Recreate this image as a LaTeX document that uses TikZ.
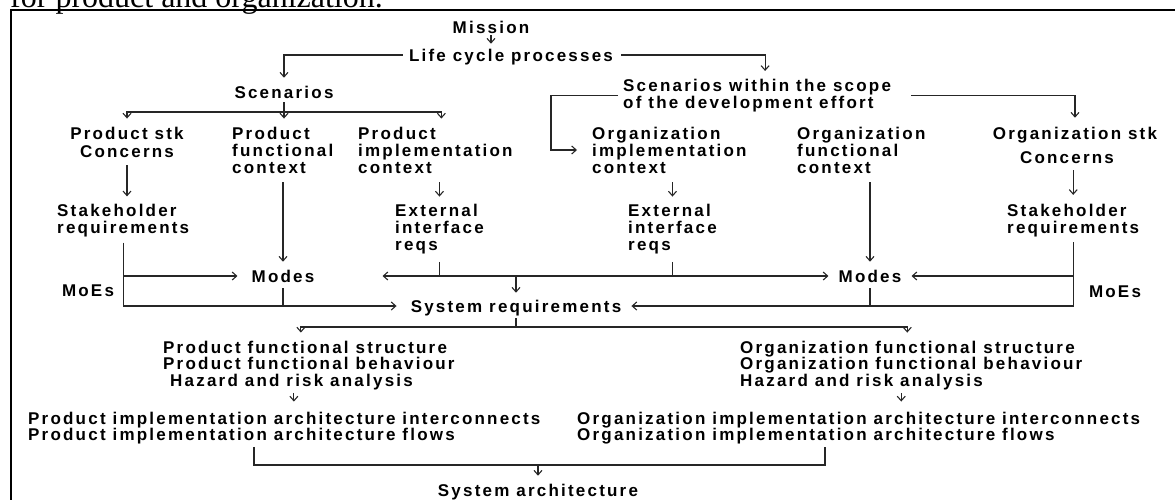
\documentclass[tikz,border=0pt]{standalone}
\usepackage{fontspec}
\newfontfamily\diafont{Liberation Sans}[LetterSpace=13]
\newfontfamily\capfont{Liberation Serif}
\usetikzlibrary{arrows.meta}
\begin{document}
\begin{tikzpicture}[x=1pt,y=-1pt,
  lbl/.style={inner sep=0pt, font=\diafont\bfseries\fontsize{17}{17}\selectfont},
  one/.style={lbl, text height=12.2pt, text depth=0pt},
  multi/.style={lbl, align=left, anchor=west},
  link/.style={draw=black!85, line width=1.1pt},
  arr/.style={link, -{Straight Barb[length=4.5pt,width=8pt,line width=1.1pt]}},
]
\useasboundingbox (0,0) rectangle (1175,499);

% caption line above the frame and the frame itself
\node[anchor=base west, inner sep=0pt, font=\capfont\fontsize{32}{32}\selectfont] (caption) at (10,7) {for product and organization.};
\draw[line width=2pt] (1190,10) -- (11,10) -- (11,510);

% ---- nodes ----
\node[one] (mission) at (491,27) {Mission};
\node[one] (life) at (511,55) {Life cycle processes};
\node[one] (scen) at (284,92) {Scenarios};
\node[multi, font=\diafont\bfseries\fontsize{17}{15}\selectfont] (scenw) at (623,95.5) {Scenarios within the scope\\of the development effort};

\node[lbl, align=center, font=\diafont\bfseries\fontsize{17}{18}\selectfont] (pstk) at (127,142) {Product stk\\Concerns};
\node[multi] (pfc) at (232,150) {Product\\functional\\context};
\node[multi] (pic) at (358,150) {Product\\implementation\\context};
\node[multi] (oic) at (592,150) {Organization\\implementation\\context};
\node[multi] (ofc) at (797,150) {Organization\\functional\\context};
\node[one] (ostk) at (1075,133) {Organization stk};
\node[one] (ocon) at (1067,157) {Concerns};

\node[multi] (psr) at (57,221) {Stakeholder\\requirements};
\node[multi] (pext) at (395,228.7) {External\\interface\\reqs};
\node[multi] (oext) at (628,228.7) {External\\interface\\reqs};
\node[multi] (osr) at (1007,220.5) {Stakeholder\\requirements};

\node[one] (pmodes) at (283,276) {Modes};
\node[one] (omodes) at (870,276) {Modes};
\node[one] (pmoe) at (88,290) {MoEs};
\node[one] (omoe) at (1115,291) {MoEs};
\node[one] (sysreq) at (516,306) {System requirements};

\node[multi, font=\diafont\bfseries\fontsize{17}{16.5}\selectfont] (pfs) at (163,365.2) {Product functional structure\\Product functional behaviour\\\hspace*{7pt}Hazard and risk analysis};
\node[multi, font=\diafont\bfseries\fontsize{17}{16.5}\selectfont] (ofs) at (740,365.2) {Organization functional structure\\Organization functional behaviour\\Hazard and risk analysis};
\node[multi, font=\diafont\bfseries\fontsize{17}{16}\selectfont] (pia) at (28,427.7) {Product implementation architecture interconnects\\Product implementation architecture flows};
\node[multi, font=\diafont\bfseries\fontsize{17}{16}\selectfont] (oia) at (577,427.7) {Organization implementation architecture interconnects\\Organization implementation architecture flows};
\node[one] (sysarch) at (538,490) {System architecture};

% ---- connectors ----
\draw[arr, shorten <=2pt, shorten >=5pt] (mission.south) -- (mission.south |- life.north);
\draw[arr, shorten >=8pt] ([xshift=-6pt]life.west) -| (scen.north);
\draw[arr, shorten >=8pt] ([xshift=8pt]life.east) -| ([xshift=8pt]scenw.north);

\coordinate (sp1) at (284,112);
\draw[link, shorten <=4pt] (scen.south) -- (sp1);
\draw[arr, shorten >=8pt] (sp1) -- (sp1 |- pfc.north);
\draw[arr, shorten >=8pt] (sp1) -| (pstk.north);
\draw[arr, shorten >=8pt] (sp1) -| ([xshift=6pt]pic.north);

\coordinate (sp2) at (551,150);
\draw[arr, shorten >=15pt] ([xshift=-5pt]scenw.west) -| (sp2) -- (oic.west);
\draw[arr, shorten >=9pt] ([xshift=20pt]scenw.east) -| (ostk.north);

\draw[arr, shorten <=8pt, shorten >=8pt] (pstk.south) -- (pstk.south |- psr.north);
\draw[arr, shorten <=7pt, shorten >=9pt] (osr.north |- ocon.south) -- (osr.north);
\draw[arr, shorten <=9pt, shorten >=8pt] (pmodes.north |- pfc.south) -- (pmodes.north);
\draw[arr, shorten <=9pt, shorten >=8pt] (omodes.north |- ofc.south) -- (omodes.north);
\draw[arr, shorten <=9pt, shorten >=7pt] (pext.north |- pic.south) -- (pext.north);
\draw[arr, shorten <=9pt, shorten >=7pt] (oext.north |- oic.south) -- (oext.north);

\draw[arr, shorten <=5pt, shorten >=14pt] (psr.south) |- (sysreq.west);
\draw[arr, shorten >=14pt] (psr.south |- pmodes.west) -- (pmodes.west);
\draw[link, shorten <=6pt] (pmodes.south) -- (pmodes.south |- sysreq.west);
\draw[arr, shorten <=5pt, shorten >=10pt] (osr.south) |- (sysreq.east);
\draw[arr, shorten >=10pt] (osr.south |- omodes.east) -- (omodes.east);
\draw[link, shorten <=6pt] (omodes.south) -- (omodes.south |- sysreq.east);

\draw[link, shorten <=8pt] (pext.south) -- (pext.south |- pmodes.east);
\draw[link, shorten <=8pt] (oext.south) -- (oext.south |- pmodes.east);
\draw[arr] (oext.south |- pmodes.east) -- ([xshift=68pt]pmodes.east);
\draw[arr, shorten >=10pt] (pext.south |- omodes.west) -- (omodes.west);
\draw[arr, shorten >=7pt] (sysreq.north |- pmodes.east) -- (sysreq.north);

\coordinate (sp3) at (515,327);
\draw[link, shorten <=6pt] (sysreq.south) -- (sysreq.south |- sp3);
\draw[arr, shorten >=8pt] (sysreq.south |- sp3) -| ([xshift=-8pt]pfs.north);
\draw[arr, shorten >=8pt] (sysreq.south |- sp3) -| ([xshift=-4pt]ofs.north);

\draw[arr, shorten <=3pt, shorten >=10pt] ([xshift=-15pt]pfs.south) -- ([xshift=-15pt]pfs.south |- pia.north);
\draw[arr, shorten <=3pt, shorten >=10pt] ([xshift=-10pt]ofs.south) -- ([xshift=-10pt]ofs.south |- oia.north);

\coordinate (bl) at (254,465);
\coordinate (br) at (825,465);
\draw[link, shorten <=3pt, shorten >=3pt] (bl |- pia.south) -- (bl) -- (br) -- (br |- oia.south);
\draw[arr, shorten >=8pt] (bl -| sysarch.north) -- (sysarch.north);
\end{tikzpicture}
\end{document}
